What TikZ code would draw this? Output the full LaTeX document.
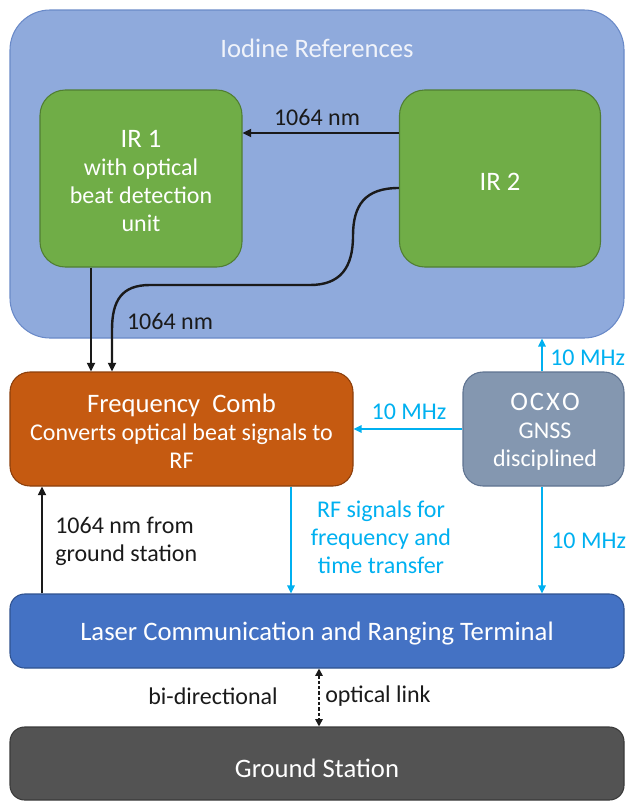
\documentclass[tikz,border=0pt]{standalone}
\usepackage{fontspec}
\setmainfont{Carlito}
\usetikzlibrary{arrows.meta}
\definecolor{iodfill}{HTML}{8FAADC}
\definecolor{iodline}{HTML}{6A8AC8}
\definecolor{irfill}{HTML}{70AD47}
\definecolor{irline}{HTML}{507E32}
\definecolor{combfill}{HTML}{C55A11}
\definecolor{combline}{HTML}{8C3F0C}
\definecolor{ocxofill}{HTML}{8497B0}
\definecolor{ocxoline}{HTML}{5F7391}
\definecolor{lcrtfill}{HTML}{4472C4}
\definecolor{lcrtline}{HTML}{2F528F}
\definecolor{gndfill}{HTML}{535353}
\definecolor{gndline}{HTML}{3A3A3A}
\definecolor{sig}{HTML}{00B0F0}
\definecolor{ink}{HTML}{1A1A1A}
\definecolor{ltext}{HTML}{F0F3FA}
\newcommand\fsn{\fontsize{18pt}{21pt}\selectfont}
\newcommand\fsl{\fontsize{20pt}{21pt}\selectfont}
\begin{document}
\begin{tikzpicture}[x=0.75pt,y=-0.75pt,
  box/.style={rounded corners=#1, line width=0.8pt, inner sep=0pt},
  btext/.style={inner sep=0pt, align=center, text=white},
  arr/.style={-{Triangle[length=6.5pt,width=6pt]}, line width=1.8pt, ink},
  sarr/.style={-{Triangle[length=6pt,width=5.5pt]}, line width=1.6pt, sig},
  lab/.style={inner sep=0pt, text=ink, font=\fsn, align=left},
  slab/.style={inner sep=0pt, text=sig, font=\fsn, align=center}]
\useasboundingbox (0,0) rectangle (625,803);
% boxes
\node[box=30pt, fill=iodfill, draw=iodline, minimum width=460.5pt, minimum height=246pt] (iod) at (317,174) {};
\node[inner sep=0pt, text=ltext, font=\fsl] (iodtitle) at (317,48) {Iodine References};
\node[box=19pt, fill=irfill, draw=irline, minimum width=151.5pt, minimum height=132.75pt] (ir1) at (141,178.5) {};
\node[btext, font=\fsn] (ir1t) at (141,181.5) {{\fsl IR 1}\\with optical\\beat detection\\unit};
\node[box=19pt, fill=irfill, draw=irline, minimum width=150.75pt, minimum height=132.75pt] (ir2) at (500,178.5) {};
\node[btext, font=\fsl] (ir2t) at (500,181.5) {IR 2};
\node[box=15pt, fill=combfill, draw=combline, minimum width=257.25pt, minimum height=85.5pt] (comb) at (181.5,429) {};
\node[btext, font=\fsn] (combt) at (181.5,431.5) {{\fsl Frequency\ \ Comb}\\Converts optical beat signals to\\RF};
\node[box=15pt, fill=ocxofill, draw=ocxoline, minimum width=120.75pt, minimum height=85.5pt] (ocxo) at (543.5,429) {};
\node[btext, font=\fsn] (ocxot) at (545,432) {{\fsl O\kern1.5pt C\kern1.5pt X\kern1.5pt O}\\GNSS\\disciplined};
\node[box=11pt, fill=lcrtfill, draw=lcrtline, minimum width=460.5pt, minimum height=55.5pt] (lcrt) at (317,631) {};
\node[btext, font=\fsl] (lcrtt) at (317,634) {Laser Communication and Ranging Terminal};
\node[box=11pt, fill=gndfill, draw=gndline, minimum width=460.5pt, minimum height=54.75pt] (gnd) at (317,763.5) {};
\node[btext, font=\fsl] (gndt) at (317,768) {Ground Station};
% optical connections
\draw[arr] (ir2.west |- 0,133) -- (ir1.east |- 0,133);
\node[lab] (l1064a) at (317,117) {1064 nm};
\draw[arr] (ir1.south -| 91,0) -- (comb.north -| 91,0);
\draw[arr] (ir2.west |- 0,188) .. controls (365,188) and (353,205) .. (353,236)
  .. controls (353,268) and (340,285) .. (310,285) -- (150,285)
  .. controls (122,285) and (112,300) .. (112,330) -- (comb.north -| 112,0);
\node[lab] (l1064b) at (170,321) {1064 nm};
\draw[arr] (lcrt.north -| 42,0) -- (comb.south -| 42,0);
\node[lab, anchor=west] (lground) at (55,541) {1064 nm from\\ground station};
% RF connections
\draw[sarr] (ocxo.west) -- (comb.east);
\node[slab] (l10a) at (409,412) {10 MHz};
\draw[sarr] (ocxo.north -| 542,0) -- (iod.south -| 542,0);
\node[slab, anchor=west] (l10b) at (550,358) {10 MHz};
\draw[sarr] (ocxo.south -| 542,0) -- (lcrt.north -| 542,0);
\node[slab, anchor=west] (l10c) at (551,541) {10 MHz};
\draw[sarr] (comb.south -| 291,0) -- (lcrt.north -| 291,0);
\node[slab] (lrf) at (381,537) {RF signals for\\frequency and\\time transfer};
% optical link
\draw[{Triangle[length=5.5pt,width=5.5pt]}-{Triangle[length=5.5pt,width=5.5pt]}, line width=1.3pt, ink, dash pattern=on 2.5pt off 1.5pt] (lcrt.south -| 319,0) -- (gnd.north -| 319,0);
\node[lab, anchor=east] (lbi) at (278,696) {bi-directional};
\node[lab, anchor=west] (lopt) at (325,696) {optical link};
\end{tikzpicture}
\end{document}
